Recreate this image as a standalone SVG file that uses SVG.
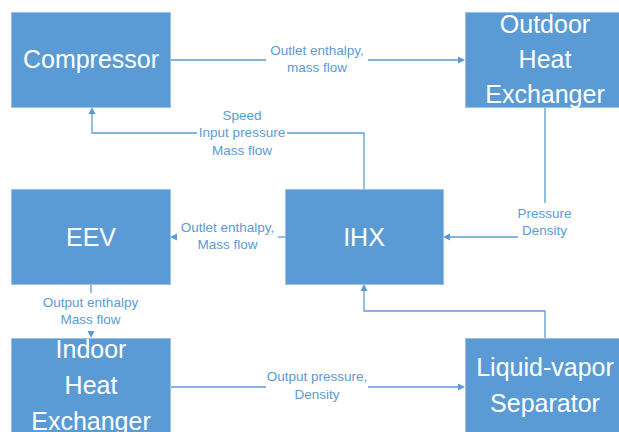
<svg xmlns="http://www.w3.org/2000/svg" width="619" height="432" viewBox="0 0 619 432">
<style>
.box{fill:#5B9BD5;stroke:#9CC0E6;stroke-width:1}
.nt{font-family:"Liberation Sans",Arial,sans-serif;font-size:25px;fill:#FFFFFF;text-anchor:middle}
.lt{font-family:"Liberation Sans",Arial,sans-serif;font-size:13.5px;fill:#5B9BD5;text-anchor:middle}
.ln{fill:none;stroke:#5B9BD5;stroke-width:1.3}
.ah{fill:#5B9BD5}
</style>
<rect width="619" height="432" fill="#FFFFFF"/>
<g id="connectors">
  <path class="ln" d="M170,60 H266 M368,60 H459"/>
  <polygon class="ah" points="465,60 458,56.5 458,63.5"/>
  <text class="lt" x="317" y="55">Outlet enthalpy,</text>
  <text class="lt" x="317" y="72">mass flow</text>

  <path class="ln" d="M364,189 V133 H287 M197,133 H92 V113"/>
  <polygon class="ah" points="92,107 88.5,114 95.5,114"/>
  <text class="lt" x="242" y="120">Speed</text>
  <text class="lt" x="242" y="137">Input pressure</text>
  <text class="lt" x="242" y="155">Mass flow</text>

  <path class="ln" d="M545,107 V203 M518,237 H449"/>
  <polygon class="ah" points="443,237 450,233.5 450,240.5"/>
  <text class="lt" x="544.5" y="218">Pressure</text>
  <text class="lt" x="544.5" y="235">Density</text>

  <path class="ln" d="M285,237 H278"/>
  <polygon class="ah" points="170,237 177,233.5 177,240.5"/>
  <text class="lt" x="227.5" y="232">Outlet enthalpy,</text>
  <text class="lt" x="227.5" y="249">Mass flow</text>

  <path class="ln" d="M91,284 V293"/>
  <polygon class="ah" points="91,338 87.5,331 94.5,331"/>
  <text class="lt" x="90.5" y="307">Output enthalpy</text>
  <text class="lt" x="90.5" y="324">Mass flow</text>

  <path class="ln" d="M170,387 H266 M368,387 H459"/>
  <polygon class="ah" points="465,387 458,383.5 458,390.5"/>
  <text class="lt" x="317" y="381">Output pressure,</text>
  <text class="lt" x="317" y="399">Density</text>

  <path class="ln" d="M545,338 V311 H364 V290"/>
  <polygon class="ah" points="364,284 360.5,291 367.5,291"/>
</g>
<g id="compressor">
  <rect class="box" x="11.5" y="12.5" width="159" height="95"/>
  <text class="nt" x="91" y="68">Compressor</text>
</g>
<g id="outdoor-hx">
  <rect class="box" x="465.5" y="12.5" width="160" height="95"/>
  <text class="nt" x="545" y="33">Outdoor</text>
  <text class="nt" x="545" y="68">Heat</text>
  <text class="nt" x="545" y="103">Exchanger</text>
</g>
<g id="eev">
  <rect class="box" x="11.5" y="189.5" width="159" height="95"/>
  <text class="nt" x="91" y="246">EEV</text>
</g>
<g id="ihx">
  <rect class="box" x="285.5" y="189.5" width="158" height="95"/>
  <text class="nt" x="364" y="246">IHX</text>
</g>
<g id="indoor-hx">
  <rect class="box" x="11.5" y="338.5" width="159" height="100"/>
  <text class="nt" x="91" y="358">Indoor</text>
  <text class="nt" x="91" y="394">Heat</text>
  <text class="nt" x="91" y="430">Exchanger</text>
</g>
<g id="separator">
  <rect class="box" x="465.5" y="338.5" width="160" height="100"/>
  <text class="nt" x="545" y="376">Liquid-vapor</text>
  <text class="nt" x="545" y="412">Separator</text>
</g>
</svg>
